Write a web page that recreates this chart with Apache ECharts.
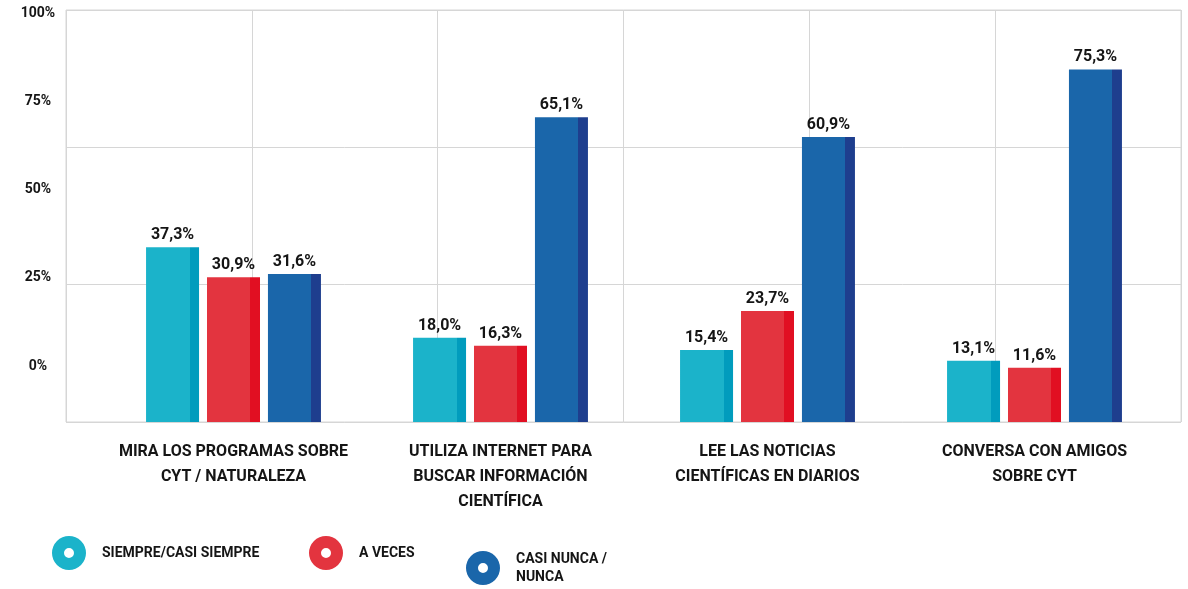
<!DOCTYPE html>
<html>
<head>
<meta charset="utf-8">
<script src="https://cdn.jsdelivr.net/npm/echarts@6/dist/echarts.min.js"></script>
<style>
  html, body { margin: 0; padding: 0; background: #fff; }
  #main { width: 1188px; height: 589px; }
</style>
</head>
<body>
<div id="main"></div>
<script>
const categories = [
    'MIRA LOS PROGRAMAS SOBRE\nCYT / NATURALEZA',
    'UTILIZA INTERNET PARA\nBUSCAR INFORMACIÓN\nCIENTÍFICA',
    'LEE LAS NOTICIAS\nCIENTÍFICAS EN DIARIOS',
    'CONVERSA CON AMIGOS\nSOBRE CYT'
]
const seriesNames = ['SIEMPRE/CASI SIEMPRE', 'A VECES', 'CASI NUNCA /\nNUNCA']
const siempre = [37.3, 18.0, 15.4, 13.1]
const aVeces = [30.9, 16.3, 23.7, 11.6]
const casiNunca = [31.6, 65.1, 60.9, 75.3]
const yTicks = [0, 25, 50, 75, 100]

const font = "Roboto, 'DejaVu Sans Condensed', sans-serif"
const ink = '#151515'
const colors = [
    ['#1bb3ca', '#019cbd'],
    ['#e3343f', '#e10f22'],
    ['#1a66aa', '#1e3e8e']
]
const ring = 'path://M0,17 A17,17 0 1,0 34,17 A17,17 0 1,0 0,17 Z M12,17 A5,5 0 1,1 22,17 A5,5 0 1,1 12,17 Z'

function stripe(c) {
    return new echarts.graphic.LinearGradient(0, 0, 1, 0, [
        { offset: 0, color: c[0] },
        { offset: 0.82, color: c[0] },
        { offset: 0.82, color: c[1] },
        { offset: 1, color: c[1] }
    ])
}

function barSeries(name, data, c) {
    return {
        name: name,
        type: 'bar',
        xAxisIndex: 1,
        yAxisIndex: 1,
        barWidth: 53,
        barGap: '15%',
        itemStyle: { color: stripe(c) },
        label: {
            show: true,
            position: 'top',
            distance: 4,
            color: ink,
            fontFamily: font,
            fontWeight: 'bold',
            fontSize: 16,
            formatter: p => p.value.toFixed(1).replace('.', ',') + '%'
        },
        data: data
    }
}

function legendAt(i, left, top, padTop) {
    return {
        data: [{ name: seriesNames[i], itemStyle: { color: colors[i][0] } }],
        left: left,
        top: top,
        padding: 0,
        icon: ring,
        itemWidth: 34,
        itemHeight: 34,
        selectedMode: false,
        textStyle: {
            color: ink,
            fontFamily: font,
            fontWeight: 'bold',
            fontSize: 14,
            lineHeight: 18,
            padding: [padTop, 0, 0, 11]
        }
    }
}

const chart = echarts.init(document.getElementById('main'))
const option = {
    animation: false,
    grid: [
        { left: 66, right: 7, top: 10, bottom: 167, show: true, borderColor: '#d6d6d6', borderWidth: 1 },
        { left: 100, right: 20, top: 10, bottom: 167 },
        { left: 66, right: 7, top: 13, bottom: 223 }
    ],
    xAxis: [
        {
            gridIndex: 0, type: 'value', min: 0, max: 6, interval: 1,
            axisLine: { show: false }, axisTick: { show: false }, axisLabel: { show: false },
            splitLine: { show: true, lineStyle: { color: '#d6d6d6', width: 1 } }
        },
        {
            gridIndex: 1, type: 'category', data: categories,
            axisLine: { show: false }, axisTick: { show: false },
            axisLabel: {
                interval: 0, margin: 17, color: ink, fontFamily: font,
                fontWeight: 'bold', fontSize: 16, lineHeight: 25, align: 'center'
            }
        },
        { gridIndex: 2, type: 'value', show: false, min: 0, max: 1 }
    ],
    yAxis: [
        {
            gridIndex: 0, type: 'value', min: 0, max: 3, interval: 1,
            axisLine: { show: false }, axisTick: { show: false }, axisLabel: { show: false },
            splitLine: { show: true, lineStyle: { color: '#d6d6d6', width: 1 } }
        },
        {
            gridIndex: 1, type: 'value', min: 0, max: 88,
            axisLine: { show: false }, axisTick: { show: false }, axisLabel: { show: false },
            splitLine: { show: false }
        },
        {
            gridIndex: 2, type: 'value', min: yTicks[0], max: yTicks[yTicks.length - 1], interval: 25,
            axisLine: { show: false }, axisTick: { show: false }, splitLine: { show: false },
            axisLabel: {
                margin: 28, align: 'center', color: ink, fontFamily: font,
                fontWeight: 'bold', fontSize: 14, formatter: '{value}%'
            }
        }
    ],
    legend: [
        legendAt(0, 52, 536, 0),
        legendAt(1, 309, 536, 6),
        legendAt(2, 466, 543, 14)
    ],
    series: [
        barSeries(seriesNames[0], siempre, colors[0]),
        barSeries(seriesNames[1], aVeces, colors[1]),
        barSeries(seriesNames[2], casiNunca, colors[2])
    ]
}
chart.setOption(option)
</script>
</body>
</html>
